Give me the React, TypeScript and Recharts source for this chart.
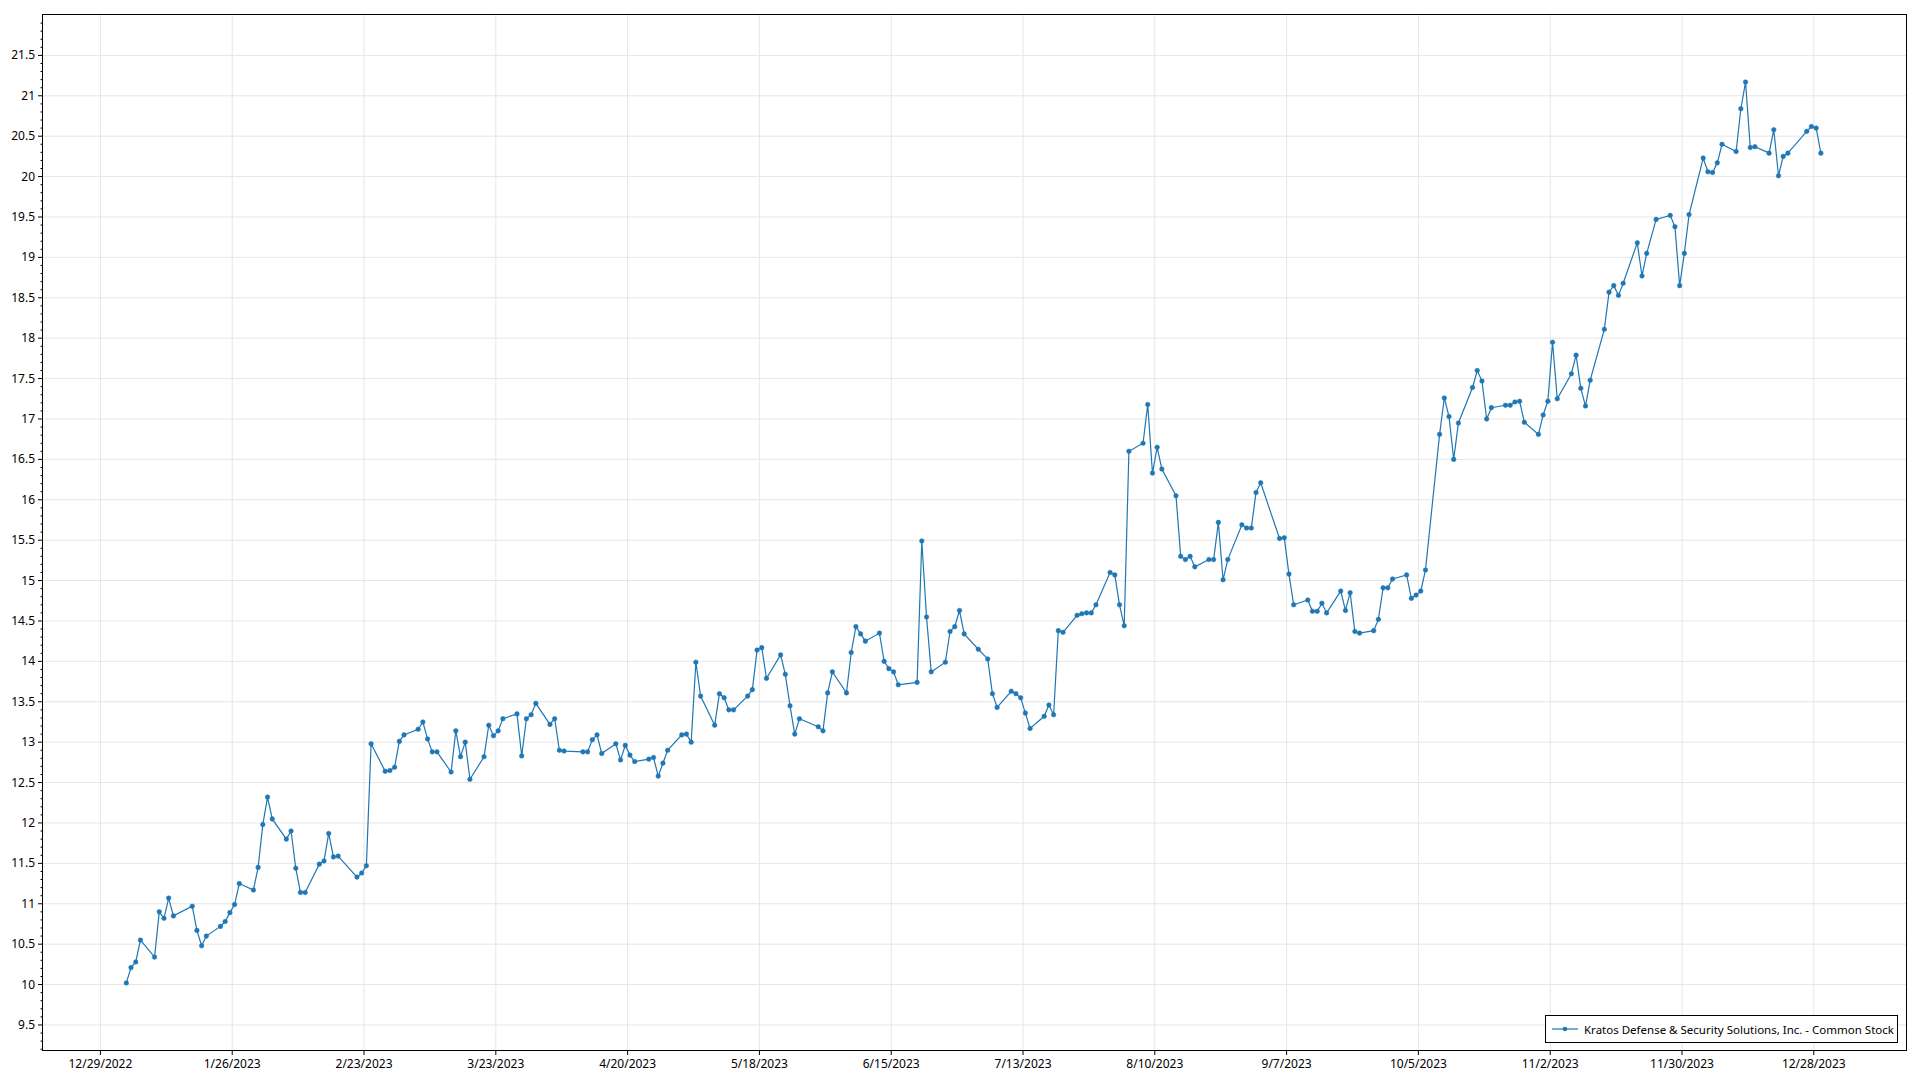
import React from 'react';
import { LineChart, Line, XAxis, YAxis, CartesianGrid } from 'recharts';

const SERIES_NAME = 'Kratos Defense & Security Solutions, Inc. - Common Stock';
const LINE_COLOR = '#1f77b4';
const FONT = '"Segoe UI", "Noto Sans", "Open Sans", sans-serif';

// trading days of 2023, one list per month
const MONTH_DAYS: number[][] = [
  [3, 4, 5, 6, 9, 10, 11, 12, 13, 17, 18, 19, 20, 23, 24, 25, 26, 27, 30, 31],
  [1, 2, 3, 6, 7, 8, 9, 10, 13, 14, 15, 16, 17, 21, 22, 23, 24, 27, 28],
  [1, 2, 3, 6, 7, 8, 9, 10, 13, 14, 15, 16, 17, 20, 21, 22, 23, 24, 27, 28, 29, 30, 31],
  [3, 4, 5, 6, 10, 11, 12, 13, 14, 17, 18, 19, 20, 21, 24, 25, 26, 27, 28],
  [1, 2, 3, 4, 5, 8, 9, 10, 11, 12, 15, 16, 17, 18, 19, 22, 23, 24, 25, 26, 30, 31],
  [1, 2, 5, 6, 7, 8, 9, 12, 13, 14, 15, 16, 20, 21, 22, 23, 26, 27, 28, 29, 30],
  [3, 5, 6, 7, 10, 11, 12, 13, 14, 17, 18, 19, 20, 21, 24, 25, 26, 27, 28, 31],
  [1, 2, 3, 4, 7, 8, 9, 10, 11, 14, 15, 16, 17, 18, 21, 22, 23, 24, 25, 28, 29, 30, 31],
  [1, 5, 6, 7, 8, 11, 12, 13, 14, 15, 18, 19, 20, 21, 22, 25, 26, 27, 28, 29],
  [2, 3, 4, 5, 6, 9, 10, 11, 12, 13, 16, 17, 18, 19, 20, 23, 24, 25, 26, 27, 30, 31],
  [1, 2, 3, 6, 7, 8, 9, 10, 13, 14, 15, 16, 17, 20, 21, 22, 24, 27, 28, 29, 30],
  [1, 4, 5, 6, 7, 8, 11, 12, 13, 14, 15, 18, 19, 20, 21, 22, 26, 27, 28, 29],
];

const MONTH_PRICES: number[][] = [
  [10.02, 10.21, 10.28, 10.55, 10.34, 10.9, 10.82, 11.07, 10.85, 10.97, 10.67, 10.48, 10.6, 10.72, 10.78, 10.89, 10.99, 11.25, 11.17, 11.45],
  [11.98, 12.32, 12.05, 11.8, 11.9, 11.44, 11.14, 11.14, 11.49, 11.53, 11.87, 11.58, 11.59, 11.33, 11.38, 11.47, 12.98, 12.64, 12.65],
  [12.69, 13.01, 13.09, 13.16, 13.25, 13.04, 12.88, 12.88, 12.63, 13.14, 12.82, 13.0, 12.54, 12.82, 13.21, 13.08, 13.14, 13.29, 13.35, 12.83, 13.29, 13.34, 13.48],
  [13.22, 13.29, 12.9, 12.89, 12.88, 12.88, 13.03, 13.09, 12.86, 12.98, 12.78, 12.96, 12.84, 12.76, 12.79, 12.81, 12.58, 12.74, 12.9],
  [13.09, 13.1, 13.0, 13.99, 13.57, 13.21, 13.6, 13.55, 13.4, 13.4, 13.57, 13.65, 14.14, 14.17, 13.79, 14.08, 13.84, 13.45, 13.1, 13.29, 13.19, 13.14],
  [13.61, 13.87, 13.61, 14.11, 14.43, 14.34, 14.25, 14.35, 14.0, 13.91, 13.87, 13.71, 13.74, 15.49, 14.55, 13.87, 13.99, 14.37, 14.43, 14.63, 14.34],
  [14.15, 14.03, 13.6, 13.43, 13.63, 13.6, 13.55, 13.36, 13.17, 13.32, 13.46, 13.34, 14.38, 14.36, 14.57, 14.59, 14.6, 14.6, 14.7, 15.1],
  [15.07, 14.7, 14.44, 16.6, 16.7, 17.18, 16.33, 16.65, 16.38, 16.05, 15.3, 15.26, 15.3, 15.17, 15.26, 15.26, 15.72, 15.01, 15.26, 15.69, 15.65, 15.65, 16.09],
  [16.21, 15.52, 15.53, 15.08, 14.7, 14.76, 14.62, 14.62, 14.72, 14.6, 14.87, 14.63, 14.85, 14.37, 14.35, 14.38, 14.52, 14.91, 14.91, 15.02],
  [15.07, 14.78, 14.82, 14.87, 15.13, 16.81, 17.26, 17.03, 16.5, 16.95, 17.39, 17.6, 17.47, 17.0, 17.14, 17.17, 17.17, 17.21, 17.22, 16.96, 16.81, 17.05],
  [17.22, 17.95, 17.25, 17.56, 17.79, 17.38, 17.16, 17.48, 18.11, 18.57, 18.65, 18.53, 18.68, 19.18, 18.77, 19.05, 19.47, 19.52, 19.38, 18.65, 19.05],
  [19.53, 20.23, 20.06, 20.05, 20.17, 20.4, 20.31, 20.84, 21.17, 20.36, 20.37, 20.29, 20.58, 20.01, 20.25, 20.29, 20.56, 20.62, 20.6, 20.29],
];

// x axis counts days from 12/29/2022
const X_TICKS = [0, 28, 56, 84, 112, 140, 168, 196, 224, 252, 280, 308, 336, 364];
const X_DOMAIN = [-12.2, 383.8];
const Y_DOMAIN = [9.19, 22.0];
const Y_MAJOR = [9.5, 10, 10.5, 11, 11.5, 12, 12.5, 13, 13.5, 14, 14.5, 15, 15.5, 16, 16.5, 17, 17.5, 18, 18.5, 19, 19.5, 20, 20.5, 21, 21.5];

const ORIGIN = Date.UTC(2022, 11, 29);
const DAY = 86400000;

const data: { day: number; price: number }[] = [];
MONTH_DAYS.forEach((days, m) => {
  days.forEach((d, i) => {
    data.push({
      day: (Date.UTC(2023, m, d) - ORIGIN) / DAY + 0.5,
      price: MONTH_PRICES[m][i],
    });
  });
});

// minor ticks every 0.1, labels only on the 0.5 steps
const yTicks: number[] = [];
for (let i = 92; i <= 219; i++) yTicks.push(i / 10);

const fmtDate = (d: number) => {
  const dt = new Date(ORIGIN + d * DAY);
  return `${dt.getUTCMonth() + 1}/${dt.getUTCDate()}/${dt.getUTCFullYear()}`;
};

const YTick = (props: any) => {
  const { x, y, payload } = props;
  const v = payload.value;
  const major = Math.round(v * 10) % 5 === 0;
  return (
    <g>
      <line x1={x} x2={x - (major ? 5 : 2.5)} y1={y} y2={y} stroke="#000" />
      {major && (
        <text x={x - 8} y={y} dy={4} textAnchor="end" fontSize={12} fill="#000" fontFamily={FONT}>
          {String(Math.round(v * 10) / 10)}
        </text>
      )}
    </g>
  );
};

const XTick = (props: any) => {
  const { x, y, payload } = props;
  return (
    <g>
      <line x1={x} x2={x} y1={y} y2={y + 5} stroke="#000" />
      <text x={x} y={y + 18} textAnchor="middle" fontSize={12} fill="#000" fontFamily={FONT}>
        {fmtDate(payload.value)}
      </text>
    </g>
  );
};

export default function App() {
  return (
    <div style={{ position: 'relative', width: 1920, height: 1080, margin: -8, background: '#fff', fontFamily: FONT }}>
      <LineChart width={1920} height={1080} data={data} margin={{ top: 15, right: 13, bottom: 0, left: 0 }}>
        <CartesianGrid stroke="#e6e6e6" horizontalValues={Y_MAJOR} verticalValues={X_TICKS} />
        <XAxis
          dataKey="day"
          type="number"
          domain={X_DOMAIN}
          ticks={X_TICKS}
          interval={0}
          height={30}
          axisLine={false}
          tickLine={false}
          tickSize={0}
          tickMargin={0}
          tick={<XTick />}
          allowDataOverflow
        />
        <YAxis
          type="number"
          domain={Y_DOMAIN}
          ticks={yTicks}
          interval={0}
          width={43}
          axisLine={false}
          tickLine={false}
          tickSize={0}
          tickMargin={0}
          tick={<YTick />}
          allowDataOverflow
        />
        <Line
          type="linear"
          dataKey="price"
          name={SERIES_NAME}
          stroke={LINE_COLOR}
          strokeWidth={1.2}
          dot={{ r: 2.3, fill: LINE_COLOR, stroke: LINE_COLOR, strokeWidth: 0.5 }}
          isAnimationActive={false}
        />
      </LineChart>
      <div
        style={{
          position: 'absolute', left: 42, top: 14, width: 1865, height: 1037,
          border: '1px solid #000', boxSizing: 'border-box', pointerEvents: 'none',
        }}
      />
      <div
        style={{
          position: 'absolute', left: 1545, top: 1015, width: 353, height: 28,
          border: '1px solid #000', boxSizing: 'border-box', background: '#fff',
          display: 'flex', alignItems: 'center', fontSize: 11.5, color: '#000',
        }}
      >
        <svg width={30} height={10} style={{ marginLeft: 4, marginRight: 4 }}>
          <line x1={2} x2={28} y1={5} y2={5} stroke={LINE_COLOR} strokeWidth={1.2} />
          <circle cx={15} cy={5} r={2.3} fill={LINE_COLOR} />
        </svg>
        <span style={{ whiteSpace: 'nowrap' }}>{SERIES_NAME}</span>
      </div>
    </div>
  );
}
